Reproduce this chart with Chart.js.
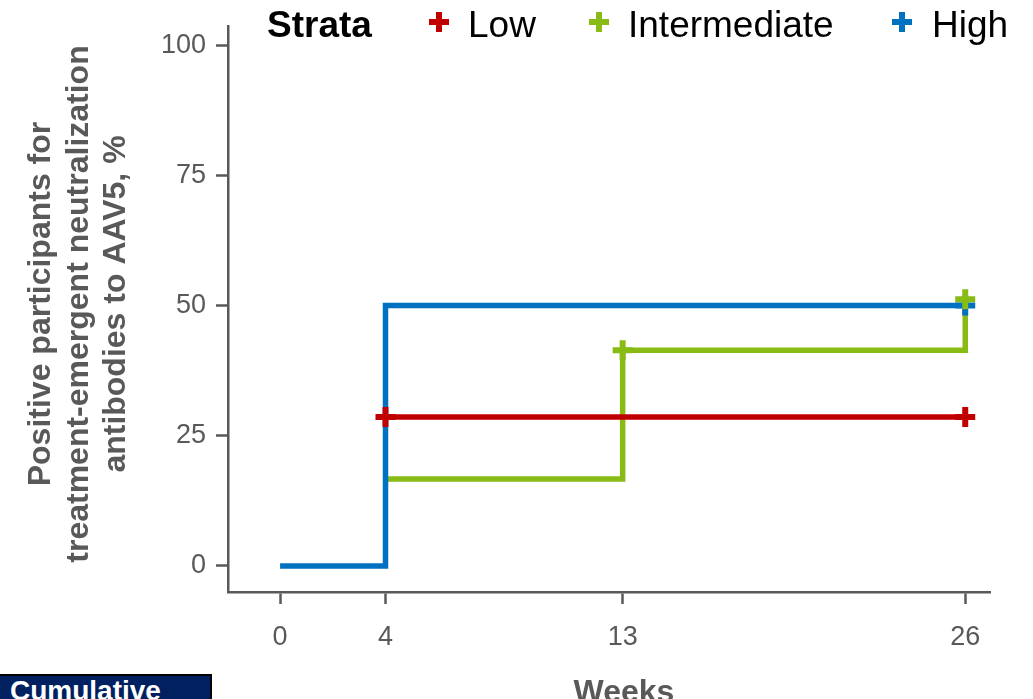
<!DOCTYPE html>
<html>
<head>
<meta charset="utf-8">
<script src="https://cdn.jsdelivr.net/npm/chart.js@4.4.0/dist/chart.umd.min.js"></script>
<style>
    html, body { margin: 0; padding: 0; background: #fff; overflow: hidden; }
    #wrap { position: relative; width: 1033px; height: 699px; }
    #note {
        position: absolute; left: 0; top: 674px; width: 200px; height: 40px;
        background: #002060; border: 2.5px solid #000; border-left: none;
        color: #fff; font: bold 28px "Liberation Sans", Arial, sans-serif;
        line-height: 28px; padding: 1px 0 0 10px; box-sizing: content-box;
    }
</style>
</head>
<body>
<div id="wrap">
    <canvas id="chart-container" width="1033" height="699"></canvas>
    <div id="note">Cumulative</div>
</div>
<script>
// tick labels
const weekTicks = [0, 4, 13, 26];
const percentTicks = [0, 25, 50, 75, 100];

// step curves (time where each level starts, level in %)
const lowTimes = [4, 26];
const lowValues = [28.6, 28.6];
const intermediateTimes = [4, 13, 26];
const intermediateValues = [16.7, 41.4, 51.2];
const highTimes = [0, 4, 26];
const highValues = [0, 50, 50];

// censor marks
const lowCensorTimes = [4, 26];
const lowCensorValues = [28.6, 28.6];
const intermediateCensorTimes = [13, 26];
const intermediateCensorValues = [41.4, 51.2];
const highCensorTimes = [26];
const highCensorValues = [50];

const strata = ["Low", "Intermediate", "High"];
const colors = { Low: "#C00000", Intermediate: "#88BC14", High: "#0070C0" };

const FONT = '"Liberation Sans", Arial, sans-serif';
const GREY = "#595959";

function toPoints(xs, ys) {
    return xs.map((x, i) => ({ x: x, y: ys[i] }));
}

function stepLine(label, xs, ys, order) {
    return {
        label: label,
        data: toPoints(xs, ys),
        borderColor: colors[label],
        borderWidth: 5.5,
        stepped: true,
        pointRadius: 0,
        fill: false,
        order: order,
        borderJoinStyle: "miter",
    };
}

function censorMarks(label, xs, ys, order) {
    return {
        label: label + " censor",
        data: toPoints(xs, ys),
        showLine: false,
        pointStyle: "cross",
        pointRadius: 10,
        pointBorderWidth: 6,
        pointBorderColor: colors[label],
        pointBackgroundColor: colors[label],
        order: order,
        clip: false,
    };
}

const textPlugin = {
    id: "textPlugin",
    afterDraw(chart) {
        const ctx = chart.ctx;
        ctx.save();

        // legend
        ctx.fillStyle = "#000";
        ctx.textBaseline = "alphabetic";
        ctx.textAlign = "left";
        ctx.font = "bold 37px " + FONT;
        ctx.fillText("Strata", 267, 37);

        const markX = [439, 599, 902];
        const labelX = [468, 628, 932];
        ctx.font = "37px " + FONT;
        strata.forEach(function (name, i) {
            ctx.strokeStyle = colors[name];
            ctx.lineWidth = 6;
            ctx.beginPath();
            ctx.moveTo(markX[i] - 10, 22);
            ctx.lineTo(markX[i] + 10, 22);
            ctx.moveTo(markX[i], 12);
            ctx.lineTo(markX[i], 32);
            ctx.stroke();
            ctx.fillStyle = "#000";
            ctx.fillText(name, labelX[i], 37);
        });

        // axis titles
        ctx.fillStyle = GREY;
        ctx.font = "bold 32px " + FONT;
        ctx.textAlign = "center";
        ctx.fillText("Weeks", 624, 702);

        const yTitle = ["Positive participants for", "treatment-emergent neutralization", "antibodies to AAV5, %"];
        const baselines = [50, 88, 125];
        yTitle.forEach(function (line, i) {
            ctx.save();
            ctx.translate(baselines[i], 304);
            ctx.rotate(-Math.PI / 2);
            ctx.fillText(line, 0, 0);
            ctx.restore();
        });

        ctx.restore();
    }
};

document.addEventListener("DOMContentLoaded", function () {
    const ctx = document.getElementById("chart-container").getContext("2d");

    new Chart(ctx, {
        type: "line",
        data: {
            datasets: [
                stepLine("Intermediate", intermediateTimes, intermediateValues, 6),
                stepLine("High", highTimes, highValues, 5),
                stepLine("Low", lowTimes, lowValues, 4),
                censorMarks("High", highCensorTimes, highCensorValues, 3),
                censorMarks("Low", lowCensorTimes, lowCensorValues, 2),
                censorMarks("Intermediate", intermediateCensorTimes, intermediateCensorValues, 1),
            ],
        },
        options: {
            responsive: false,
            animation: false,
            layout: { padding: { left: 0, top: 25, right: 43, bottom: 0 } },
            plugins: {
                legend: { display: false },
                tooltip: { enabled: false },
            },
            scales: {
                x: {
                    type: "linear",
                    min: -1.977,
                    max: 26.94,
                    afterBuildTicks: function (scale) {
                        scale.ticks = weekTicks.map(v => ({ value: v }));
                    },
                    afterFit: function (scale) {
                        scale.height = 107;
                    },
                    grid: {
                        drawOnChartArea: false,
                        drawTicks: true,
                        tickLength: 12,
                        tickWidth: 2.5,
                        tickColor: GREY,
                    },
                    border: { display: true, color: GREY, width: 2.5 },
                    ticks: {
                        color: GREY,
                        font: { family: FONT, size: 27 },
                        padding: 17,
                        maxRotation: 0,
                        autoSkip: false,
                    },
                },
                y: {
                    type: "linear",
                    min: -5,
                    max: 103.64,
                    afterBuildTicks: function (scale) {
                        scale.ticks = percentTicks.map(v => ({ value: v }));
                    },
                    afterFit: function (scale) {
                        scale.width = 228;
                    },
                    grid: {
                        drawOnChartArea: false,
                        drawTicks: true,
                        tickLength: 12,
                        tickWidth: 2.5,
                        tickColor: GREY,
                    },
                    border: { display: true, color: GREY, width: 2.5 },
                    ticks: {
                        color: GREY,
                        font: { family: FONT, size: 27 },
                        padding: 10,
                        autoSkip: false,
                    },
                },
            },
        },
        plugins: [textPlugin],
    });
});
</script>
</body>
</html>
